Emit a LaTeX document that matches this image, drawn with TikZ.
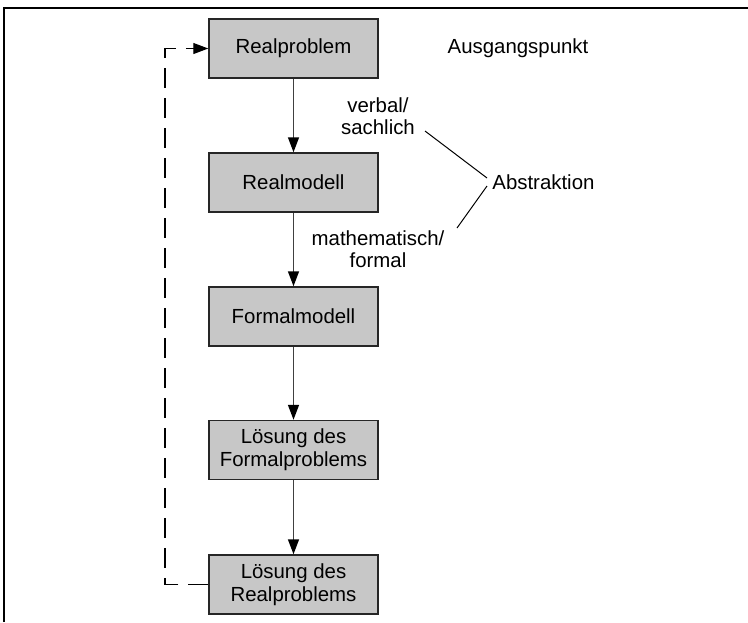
\documentclass[tikz,border=0pt]{standalone}
\usepackage{fontspec}
\setmainfont{Liberation Sans}
\usetikzlibrary{arrows.meta}
\begin{document}
\begin{tikzpicture}[x=0.5pt,y=-0.5pt,
  box/.style={draw=black!85, fill=black!22, line width=0.75pt, minimum width=84.5pt, minimum height=29.5pt, align=center, inner sep=0pt, font=\fontsize{10.2}{11.5}\selectfont},
  lbl/.style={align=center, inner sep=0pt, font=\fontsize{10.2}{11}\selectfont},
  flow/.style={draw=black!75, line width=0.75pt, -{Triangle[length=7.5pt,width=5.5pt,color=black,fill=black]}},
  back/.style={draw=black, line width=0.6pt, dash pattern=on 10pt off 5pt, -{Triangle[length=7.5pt,width=5.5pt,color=black,fill=black]}},
  frame/.style={draw=black, line width=1pt},
  thin/.style={draw=black, line width=0.5pt}
]
\useasboundingbox (0,0) rectangle (748,622);
% frame
\coordinate (f1) at (3.5,622);
\coordinate (f2) at (3.5,7.5);
\coordinate (f3) at (748,7.5);
\draw[frame] (f1) -- (f2) -- (f3);
% boxes
\node[box] (rp) at (293.5,48.5) {Realproblem};
\node[box] (rm) at (293.5,182.5) {Realmodell};
\node[box] (fm) at (293.5,316.5) {Formalmodell};
\node[box] (lf) at (293.5,450) {Lösung des\\Formalproblems};
\node[box] (lr) at (293.5,584.5) {Lösung des\\Realproblems};
% arrows
\draw[flow] (rp) -- (rm);
\draw[flow] (rm) -- (fm);
\draw[flow] (fm) -- (lf);
\draw[flow] (lf) -- (lr);
% feedback
\coordinate (c1) at (165,584.5);
\coordinate (c2) at (165,48.5);
\draw[back] (lr.west) -- (c1) -- (c2) -- (rp.west);
% labels
\node[lbl] (ap) at (518,48) {Ausgangspunkt};
\node[lbl] (vs) at (378,116) {verbal/\\sachlich};
\node[lbl] (mf) at (378,249) {mathematisch/\\formal};
\node[lbl, anchor=west] (ab) at (492,182) {Abstraktion};
\coordinate (a1) at (425,131);
\coordinate (a2) at (487,178);
\coordinate (a3) at (487,186);
\coordinate (a4) at (457,228);
\draw[thin] (a1) -- (a2);
\draw[thin] (a3) -- (a4);
\end{tikzpicture}
\end{document}
